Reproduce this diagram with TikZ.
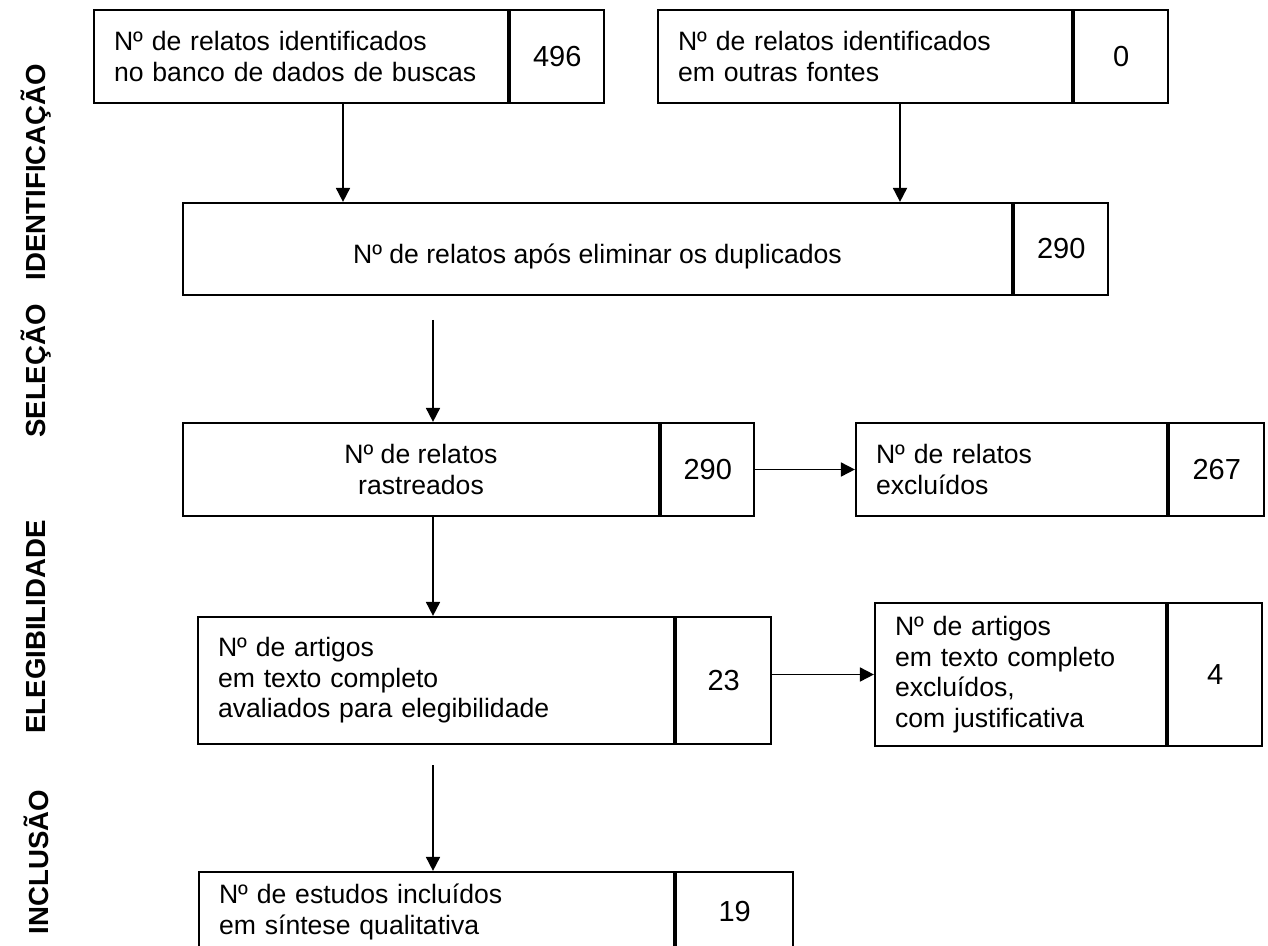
\documentclass[tikz,border=0pt]{standalone}
\usepackage{fontspec}
\setmainfont{Liberation Sans}
\usetikzlibrary{arrows.meta,positioning}

\tikzset{
  box/.style={draw, line width=1.1pt, inner sep=0pt, font=\fontsize{13.3}{15.3}\selectfont},
  lbox/.style={box, align=left, inner xsep=10pt, text width=#1},
  cbox/.style={box, align=center, minimum width=#1},
  num/.style={box, font=\fontsize{14.5}{16}\selectfont},
  arr/.style={-{Triangle[length=7pt,width=7pt]}, line width=0.9pt},
  phase/.style={rotate=90, font=\fontsize{13.8}{16}\bfseries\selectfont}
}

\begin{document}
\begin{tikzpicture}[x=0.5pt, y=-0.5pt]
\useasboundingbox (0,0) rectangle (1268,946);

% fases
\node[phase] (f1) at (36,172) {IDENTIFICAÇÃO};
\node[phase] (f2) at (36,371) {SELEÇÃO};
\node[phase] (f3) at (36,627) {ELEGIBILIDADE};
\node[phase] (f4) at (36,862) {INCLUSÃO};

% identificacao
\node[lbox=187pt, minimum height=46.5pt] (ident) at (301,56.5)
  {Nº de relatos identificados\\no banco de dados de buscas};
\node[num, minimum width=47pt, minimum height=46.5pt, right=0pt of ident] (identn) {496};
\node[lbox=187pt, minimum height=46.5pt] (outras) at (865,56.5)
  {Nº de relatos identificados\\em outras fontes};
\node[num, minimum width=47pt, minimum height=46.5pt, right=0pt of outras] (outrasn) {0};
\node[cbox=414.5pt, minimum height=46pt, text height=15pt, text depth=0pt] (dupl) at (597.5,249)
  {Nº de relatos após eliminar os duplicados};
\node[num, minimum width=47pt, minimum height=46pt, right=0pt of dupl] (dupln) {290};

% selecao
\node[cbox=238pt, minimum height=46.5pt] (rastr) at (421,469.5)
  {Nº de relatos\\rastreados};
\node[num, minimum width=46.5pt, minimum height=46.5pt, right=0pt of rastr] (rastrn) {290};
\node[lbox=135.5pt, minimum height=46.5pt] (excl) at (1011.5,469.5)
  {Nº de relatos\\excluídos};
\node[num, minimum width=47.5pt, minimum height=46.5pt, right=0pt of excl] (excln) {267};

% elegibilidade
\node[lbox=218pt, minimum height=63.5pt] (aval) at (436,680.5)
  {Nº de artigos\\em texto completo\\avaliados para elegibilidade};
\node[num, minimum width=47.5pt, minimum height=63.5pt, right=0pt of aval] (avaln) {23};
\node[lbox=125.5pt, minimum height=71.5pt] (artex) at (1020.5,674.5)
  {Nº de artigos\\em texto completo\\excluídos,\\com justificativa};
\node[num, minimum width=47pt, minimum height=71.5pt, right=0pt of artex] (artexn) {4};

% inclusao
\node[lbox=217.5pt, minimum height=40pt] (incl) at (436.5,912)
  {Nº de estudos incluídos\\em síntese qualitativa};
\node[num, minimum width=58.5pt, minimum height=40pt, right=0pt of incl] (incln) {19};

% setas
\coordinate (s3) at (433,320);
\coordinate (s5) at (433,765);
\draw[arr] ([xshift=21pt]ident.south) -- ([xshift=21pt]ident.south |- dupl.north);
\draw[arr] ([xshift=17.5pt]outras.south) -- ([xshift=17.5pt]outras.south |- dupl.north);
\draw[arr] (s3) -- (s3 |- rastr.north);
\draw[arr] ([xshift=6pt]rastr.south) -- ([xshift=6pt]rastr.south |- aval.north);
\draw[arr] (s5) -- (s5 |- incl.north);
\draw[arr] (rastrn.east) -- (excl.west);
\draw[arr] (avaln.east |- artex.west) -- (artex.west);
\end{tikzpicture}
\end{document}
